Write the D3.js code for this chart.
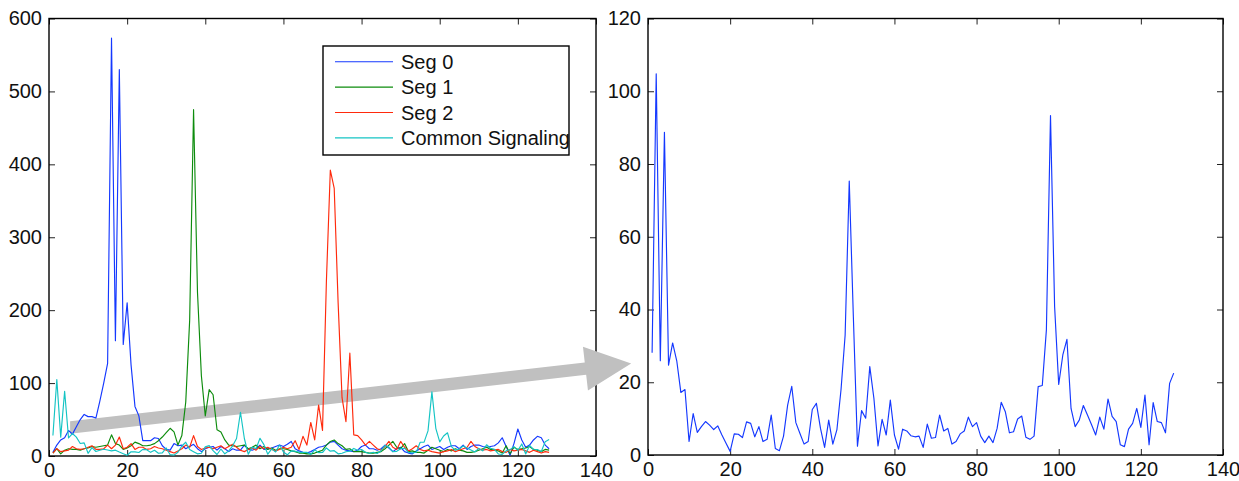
<!DOCTYPE html>
<html>
<head>
<meta charset="utf-8">
<script src="https://cdn.jsdelivr.net/npm/d3@7"></script>
<style>
  body { margin: 0; background: #fff; }
  svg { display: block; font-family: "Liberation Sans", Arial, Helvetica, sans-serif; }
</style>
</head>
<body>
<svg id="chart"></svg>
<script>
// ---- data (sample index 1..128) ----
const seg0 = [5, 15, 22, 25, 35, 30, 40, 50, 57, 54, 54, 52, 75, 100, 127, 573, 158, 530, 153, 210,
  125, 68, 55, 21, 21, 21, 25, 24, 14, 9, 8, 17, 14, 15, 10, 13, 16, 10, 6, 10,
  12, 13, 8, 13, 10, 6, 10, 8, 8, 15, 9, 8, 10, 15, 9, 10, 11, 13, 15, 13,
  16, 20, 10, 7, 5, 4, 6, 9, 12, 13, 15, 19, 20, 15, 10, 8, 7, 6, 8, 13,
  15, 10, 10, 8, 10, 15, 11, 6, 10, 12, 6, 4, 3, 7, 10, 13, 15, 9, 11, 13,
  9, 12, 14, 14, 10, 15, 9, 13, 15, 15, 13, 12, 13, 14, 18, 25, 13, 1, 17, 37,
  22, 12, 15, 22, 27, 25, 15, 10];

const seg1 = [4, 10, 3, 8, 10, 9, 9, 8, 10, 11, 13, 12, 13, 14, 15, 29, 17, 15, 9, 11,
  14, 19, 17, 14, 14, 15, 17, 21, 26, 32, 38, 33, 15, 28, 74, 186, 475, 225, 110, 55,
  91, 84, 36, 33, 22, 15, 14, 13, 14, 15, 10, 12, 15, 10, 13, 9, 11, 8, 10, 10,
  9, 7, 6, 4, 4, 3, 3, 4, 6, 8, 15, 20, 22, 17, 14, 9, 10, 6, 6, 6,
  5, 4, 4, 5, 6, 10, 15, 20, 12, 10, 17, 6, 7, 5, 5, 4, 8, 12, 10, 8,
  6, 9, 7, 10, 8, 7, 5, 5, 6, 8, 10, 12, 9, 8, 7, 4, 14, 3, 12, 9,
  10, 11, 13, 9, 8, 6, 9, 8];

const seg2 = [4, 10, 6, 7, 8, 13, 10, 9, 10, 12, 14, 9, 9, 10, 15, 10, 15, 26, 10, 12,
  17, 9, 12, 12, 9, 10, 13, 11, 10, 8, 6, 4, 7, 10, 15, 12, 28, 13, 9, 11,
  12, 10, 12, 14, 10, 13, 16, 12, 8, 6, 9, 11, 8, 13, 10, 12, 9, 7, 9, 12,
  10, 12, 21, 9, 27, 15, 46, 22, 70, 35, 240, 392, 367, 210, 80, 47, 141, 29, 28, 22,
  15, 20, 15, 10, 8, 13, 20, 12, 9, 20, 12, 7, 10, 14, 9, 7, 8, 6, 5, 4,
  6, 7, 9, 6, 8, 10, 12, 20, 13, 10, 8, 9, 7, 8, 9, 6, 5, 9, 7, 8,
  9, 7, 5, 8, 6, 4, 6, 5];

const commonLeft = [28.1, 104.8, 25.9, 88.7, 24.7, 30.8, 25.9, 17.2, 18, 3.7, 11.4, 6.2, 7.8, 9.2, 8.2, 7, 8, 5.5, 3.2, 1,
  5.8, 5.7, 4.8, 9.1, 8.7, 5, 7.8, 3.7, 4.3, 11, 1.8, 1.2, 5.2, 13.7, 18.9, 8.9, 5.9, 3, 3.7, 12.5,
  14.2, 7.3, 2.1, 9.6, 3, 7, 14, 24, 60, 24, 2.4, 12.2, 10.1, 24.3, 15.6, 2.5, 9.8, 5.5, 15.1, 5.5,
  1.6, 7.1, 6.6, 5.3, 5, 5.2, 2.1, 8.5, 4.6, 4.8, 11, 6.6, 7.3, 3, 3.7, 5.8, 6.6, 10.4, 7.8, 8.9,
  5.2, 3.4, 5.2, 3.4, 7.3, 14.5, 11.9, 6.1, 6.4, 9.9, 10.7, 4.9, 4.3, 5.2, 18.8, 19.1, 34.4, 88, 38, 19.4,
  27.5, 31.8, 12.8, 7.8, 9.6, 13.6, 11, 8.3, 5.5, 10.4, 7.1, 15.4, 10.6, 9.2, 2.8, 2.3, 7.1, 8.7, 12.8, 7.6,
  16.5, 2.8, 14.4, 9.2, 8.9, 6.1, 19.7, 22.5];

const commonRight = [28.1, 104.8, 25.9, 88.7, 24.7, 30.8, 25.9, 17.2, 18, 3.7, 11.4, 6.2, 7.8, 9.2, 8.2, 7, 8, 5.5, 3.2, 1,
  5.8, 5.7, 4.8, 9.1, 8.7, 5, 7.8, 3.7, 4.3, 11, 1.8, 1.2, 5.2, 13.7, 18.9, 8.9, 5.9, 3, 3.7, 12.5,
  14.2, 7.3, 2.1, 9.6, 3, 7, 18, 33, 75.3, 38, 2.4, 12.2, 10.1, 24.3, 15.6, 2.5, 9.8, 5.5, 15.1, 5.5,
  1.6, 7.1, 6.6, 5.3, 5, 5.2, 2.1, 8.5, 4.6, 4.8, 11, 6.6, 7.3, 3, 3.7, 5.8, 6.6, 10.4, 7.8, 8.9,
  5.2, 3.4, 5.2, 3.4, 7.3, 14.5, 11.9, 6.1, 6.4, 9.9, 10.7, 4.9, 4.3, 5.2, 18.8, 19.1, 34.4, 93.3, 40.8, 19.4,
  27.5, 31.8, 12.8, 7.8, 9.6, 13.6, 11, 8.3, 5.5, 10.4, 7.1, 15.4, 10.6, 9.2, 2.8, 2.3, 7.1, 8.7, 12.8, 7.6,
  16.5, 2.8, 14.4, 9.2, 8.9, 6.1, 19.7, 22.5];

const legendLabels = ['Seg 0', 'Seg 1', 'Seg 2', 'Common Signaling'];
const xTicks = [0, 20, 40, 60, 80, 100, 120, 140];
const leftYTicks = [0, 100, 200, 300, 400, 500, 600];
const rightYTicks = [0, 20, 40, 60, 80, 100, 120];

// arrow annotation, in left-chart data units: [sample, value]
const arrowFrom = [5.4, 39];
const arrowTo = [149, 127];

const colors = ['#1438ff', '#0d8c0d', '#ff2a0c', '#14c4c4'];

// ---- layout ----
const W = 1239, H = 481;
const left = { x0: 49, x1: 596, y0: 456, y1: 18.5 };
const right = { x0: 648, x1: 1223, y0: 455, y1: 18.5 };

const svg = d3.select('#chart').attr('width', W).attr('height', H);
svg.append('rect').attr('width', W).attr('height', H).attr('fill', '#fff');

const xL = d3.scaleLinear().domain([0, 140]).range([left.x0, left.x1]);
const yL = d3.scaleLinear().domain([0, 600]).range([left.y0, left.y1]);
const xR = d3.scaleLinear().domain([0, 140]).range([right.x0, right.x1]);
const yR = d3.scaleLinear().domain([0, 120]).range([right.y0, right.y1]);

function drawAxes(x, y, yTicks, box) {
  const g = svg.append('g');
  const style = sel => {
    sel.attr('font-size', 20).attr('font-family', '"Liberation Sans", Arial, sans-serif');
    sel.select('.domain').remove();
    sel.selectAll('.tick line').attr('stroke', '#222').attr('stroke-width', 1);
    sel.selectAll('.tick text').attr('fill', '#111');
  };
  g.append('g').attr('transform', `translate(0,${box.y0})`)
    .call(d3.axisBottom(x).tickValues(xTicks).tickSizeInner(-6).tickSizeOuter(0).tickPadding(7))
    .call(style);
  g.append('g').attr('transform', `translate(0,${box.y1})`)
    .call(d3.axisTop(x).tickValues(xTicks).tickSizeInner(-6).tickSizeOuter(0).tickFormat(''))
    .call(style);
  g.append('g').attr('transform', `translate(${box.x0},0)`)
    .call(d3.axisLeft(y).tickValues(yTicks).tickSizeInner(-6).tickSizeOuter(0).tickPadding(7))
    .call(style);
  g.append('g').attr('transform', `translate(${box.x1},0)`)
    .call(d3.axisRight(y).tickValues(yTicks).tickSizeInner(-6).tickSizeOuter(0).tickFormat(''))
    .call(style);
  g.append('rect')
    .attr('x', box.x0).attr('y', box.y1)
    .attr('width', box.x1 - box.x0).attr('height', box.y0 - box.y1)
    .attr('fill', 'none').attr('stroke', '#000').attr('stroke-width', 1.4);
}

drawAxes(xL, yL, leftYTicks, left);
drawAxes(xR, yR, rightYTicks, right);

// ---- grey arrow (under the data lines) ----
const p0 = [xL(arrowFrom[0]), yL(arrowFrom[1])];
const p1 = [xL(arrowTo[0]), yL(arrowTo[1])];
const dx = p1[0] - p0[0], dy = p1[1] - p0[1];
const len = Math.hypot(dx, dy);
const ux = dx / len, uy = dy / len, nx = -uy, ny = ux;
const shaftHalf = 6.2, headLen = 46, headHalf = 22;
const hb = [p1[0] - ux * headLen, p1[1] - uy * headLen];
const arrowPts = [
  [p0[0], p0[1] - shaftHalf],
  [hb[0] - nx * shaftHalf, hb[1] - ny * shaftHalf],
  [hb[0] - nx * headHalf, hb[1] - ny * headHalf],
  p1,
  [hb[0] + nx * headHalf, hb[1] + ny * headHalf],
  [hb[0] + nx * shaftHalf, hb[1] + ny * shaftHalf],
  [p0[0], p0[1] + shaftHalf]
];
svg.append('path')
  .attr('d', 'M' + arrowPts.map(p => p.join(',')).join('L') + 'Z')
  .attr('fill', '#c0c0c0');

// ---- lines ----
const lineL = d3.line().x((d, i) => xL(i + 1)).y(d => yL(d));
const lineR = d3.line().x((d, i) => xR(i + 1)).y(d => yR(d));

const leftSeries = [seg0, seg1, seg2, commonLeft];
leftSeries.forEach((s, k) => {
  svg.append('path').datum(s)
    .attr('d', lineL)
    .attr('fill', 'none')
    .attr('stroke', colors[k])
    .attr('stroke-width', 1.15)
    .attr('stroke-linejoin', 'round');
});

svg.append('path').datum(commonRight)
  .attr('d', lineR)
  .attr('fill', 'none')
  .attr('stroke', colors[0])
  .attr('stroke-width', 1.15)
  .attr('stroke-linejoin', 'round');

// ---- legend ----
const legend = svg.append('g');
legend.append('rect')
  .attr('x', 323).attr('y', 46).attr('width', 246).attr('height', 109)
  .attr('fill', '#fff').attr('stroke', '#000').attr('stroke-width', 1.4);

legendLabels.forEach((lab, i) => {
  const yy = 61.7 + i * 25.4;
  legend.append('line')
    .attr('x1', 335).attr('x2', 393).attr('y1', yy).attr('y2', yy)
    .attr('stroke', colors[i]).attr('stroke-width', 1.15);
  legend.append('text')
    .attr('x', 401).attr('y', yy).attr('dy', '0.35em')
    .attr('font-size', 20).attr('fill', '#111')
    .text(lab);
});
</script>
</body>
</html>
